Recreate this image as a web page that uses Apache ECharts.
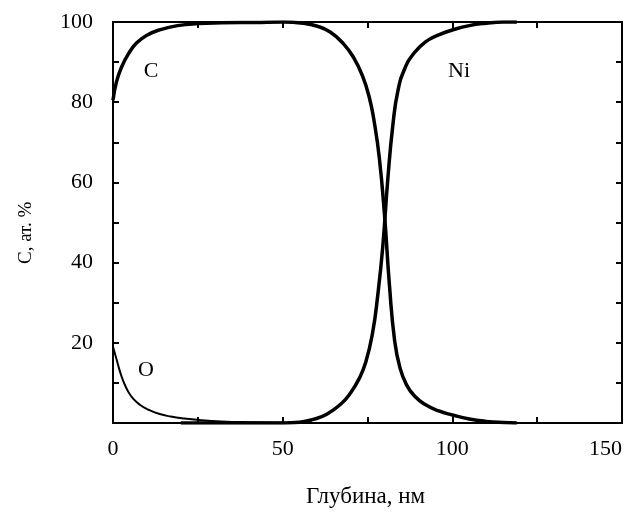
<!DOCTYPE html>
<html>
<head>
<meta charset="utf-8">
<script src="https://cdn.jsdelivr.net/npm/echarts@6/dist/echarts.min.js"></script>
<style>
  html, body { margin: 0; padding: 0; background: #fff; }
  #chart { width: 636px; height: 514px; }
</style>
</head>
<body>
<div id="chart"></div>
<script>
// Depth profile: concentration (at. %) vs depth (nm)
const carbonX = [0, 1, 2.5, 4.5, 7, 10, 14, 19, 25, 32, 42, 50, 56, 60, 64, 68, 71, 73.5, 75.5, 77, 78.5, 80, 81.5, 83, 84.5, 86.5, 89, 92, 96, 100, 105, 110, 115, 119];
const carbonY = [80.5, 85, 88.7, 92, 94.8, 96.7, 98.1, 99.1, 99.6, 99.8, 99.9, 100, 99.7, 99, 97.5, 94.5, 91, 86.6, 81.3, 75, 66, 52, 34, 20.5, 14, 9.5, 6.6, 4.6, 3, 2, 1, 0.4, 0.1, 0];

const nickelX = [20, 35, 50, 55, 59, 63, 67, 70, 72.5, 74.5, 76.5, 78, 79.5, 81, 82.5, 84, 86, 88.5, 92, 96, 100, 105, 110, 115, 119];
const nickelY = [0, 0, 0, 0.2, 0.9, 2.2, 4.6, 7.5, 11, 15.2, 22.5, 31.7, 44, 61, 74.5, 83, 88.4, 92, 95, 96.8, 98, 99.1, 99.7, 100, 100];

const oxygenX = [0, 1, 2, 3, 4.5, 6, 8, 10.5, 13.5, 17, 21, 26, 32, 40, 50, 58];
const oxygenY = [19, 16, 13, 10.5, 7.8, 6, 4.5, 3.3, 2.3, 1.6, 1.1, 0.7, 0.4, 0.2, 0.05, 0];

// Curve captions
const captionText = ['C', 'Ni', 'O'];
const captionX = [11.2, 102, 9.7];
const captionY = [87.8, 87.8, 13.2];

const xTitle = 'Глубина, нм';
const yTitle = 'C, ат. %';

const zip = (xs, ys) => xs.map((x, i) => [x, ys[i]]);

const FONT = '"Liberation Serif", "DejaVu Serif", serif';

const chart = echarts.init(document.getElementById('chart'), null, { renderer: 'canvas' });

const frameLine = { show: true, onZero: false, lineStyle: { color: '#000', width: 2 } };
const innerTick = { show: true, inside: true, length: 6, lineStyle: { color: '#000', width: 2 } };

chart.setOption({
  animation: false,
  backgroundColor: '#fff',
  grid: { left: 113, right: 14, top: 22, bottom: 91 },
  xAxis: [
    {
      type: 'value', position: 'bottom', min: 0, max: 150, interval: 25,
      axisLine: frameLine, axisTick: innerTick, splitLine: { show: false },
      axisLabel: {
        margin: 15, color: '#000', fontFamily: FONT, fontSize: 22, alignMaxLabel: 'right',
        formatter: v => (v % 50 === 0 ? String(v) : '')
      }
    },
    {
      type: 'value', position: 'top', min: 0, max: 150, interval: 25,
      axisLine: frameLine, axisTick: innerTick, splitLine: { show: false },
      axisLabel: { show: false }
    }
  ],
  yAxis: [
    {
      type: 'value', position: 'left', min: 0, max: 100, interval: 10,
      axisLine: frameLine, axisTick: innerTick, splitLine: { show: false },
      axisLabel: {
        margin: 20, color: '#000', fontFamily: FONT, fontSize: 22,
        formatter: v => (v % 20 === 0 && v !== 0 ? String(v) : '')
      }
    },
    {
      type: 'value', position: 'right', min: 0, max: 100, interval: 10,
      axisLine: frameLine, axisTick: innerTick, splitLine: { show: false },
      axisLabel: { show: false }
    }
  ],
  graphic: [
    {
      type: 'text', left: 306, top: 485,
      style: { text: xTitle, fill: '#000', font: '23px ' + FONT }
    },
    {
      type: 'text', x: 17, y: 264, rotation: Math.PI / 2,
      style: { text: yTitle, fill: '#000', font: '19px ' + FONT }
    }
  ],
  series: [
    {
      name: 'C', type: 'line', data: zip(carbonX, carbonY),
      smooth: 0.5, showSymbol: false, clip: true,
      lineStyle: { color: '#000', width: 3.5 }
    },
    {
      name: 'Ni', type: 'line', data: zip(nickelX, nickelY),
      smooth: 0.5, showSymbol: false, clip: true,
      lineStyle: { color: '#000', width: 3.5 }
    },
    {
      name: 'O', type: 'line', data: zip(oxygenX, oxygenY),
      smooth: 0.5, showSymbol: false, clip: true,
      lineStyle: { color: '#000', width: 2 }
    },
    {
      name: 'captions', type: 'scatter', symbolSize: 0, silent: true,
      itemStyle: { opacity: 1 },
      data: captionText.map((t, i) => ({ name: t, value: [captionX[i], captionY[i]] })),
      label: {
        show: true, position: 'inside', formatter: p => p.name, opacity: 1,
        color: '#000', fontFamily: FONT, fontSize: 22
      }
    }
  ]
});
</script>
</body>
</html>
